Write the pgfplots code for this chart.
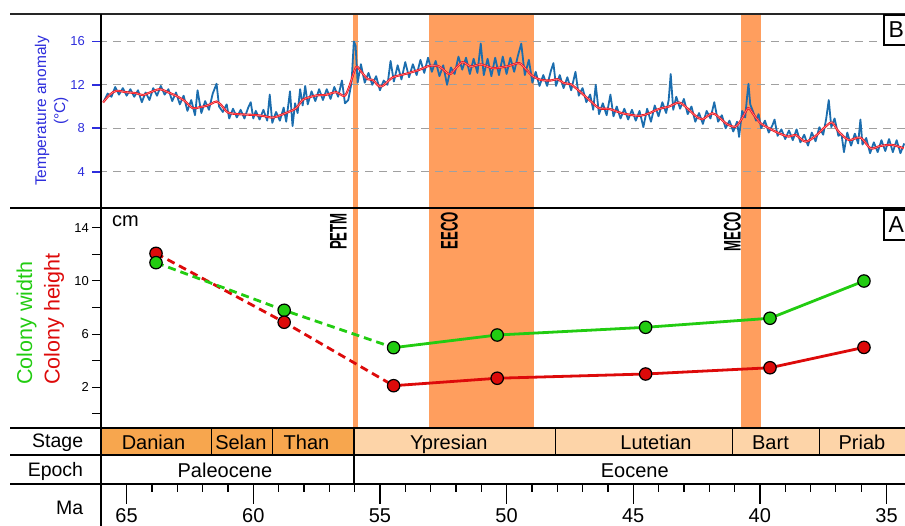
\documentclass[border=0pt]{standalone}
\usepackage{fontspec}
\setmainfont{Liberation Sans}
\usepackage{pgfplots}
\usepackage{pgfplotstable}
\usepackage{graphicx}
\pgfplotsset{compat=1.18}

\definecolor{tblue}{HTML}{2D2DDC}
\definecolor{dblue}{HTML}{1B6DAE}
\definecolor{redl}{HTML}{F0141E}
\definecolor{bandc}{HTML}{FF9E5E}
\definecolor{palc}{HTML}{F7A64E}
\definecolor{eocc}{HTML}{FDD4A8}
\definecolor{cgreen}{HTML}{22CC11}
\definecolor{cred}{HTML}{DD0A0A}
\definecolor{gridgray}{HTML}{A0A0A0}

\pgfplotstableread{
ma t
65.90 10.5
65.75 11.2
65.60 10.9
65.45 11.8
65.30 11.1
65.15 11.7
65.00 11.0
64.85 11.6
64.70 10.9
64.55 11.5
64.40 10.4
64.25 11.3
64.10 10.6
63.95 11.7
63.80 11.0
63.65 11.9
63.50 11.1
63.35 11.6
63.20 10.5
63.05 11.3
62.90 10.2
62.75 11.0
62.60 9.6
62.45 10.6
62.30 9.2
62.20 11.5
62.05 9.4
61.90 10.5
61.75 9.7
61.60 11.2
61.45 12.1
61.35 10.0
61.20 9.5
61.05 10.2
60.95 8.9
60.80 9.8
60.65 9.0
60.50 9.7
60.35 8.9
60.20 9.9
60.10 10.4
60.00 8.9
59.90 9.6
59.75 8.8
59.60 9.7
59.45 8.7
59.35 11.1
59.25 8.5
59.10 9.5
58.95 8.7
58.80 9.9
58.70 8.6
58.55 11.4
58.45 8.2
58.35 10.3
58.25 9.4
58.15 11.6
58.05 10.1
57.95 11.9
57.85 10.2
57.70 11.4
57.55 10.5
57.40 11.6
57.25 10.6
57.10 11.6
56.95 10.7
56.80 11.8
56.65 10.9
56.50 12.4
56.38 10.3
56.25 10.6
56.12 12.2
56.03 16.0
55.96 15.6
55.88 12.2
55.75 13.9
55.60 12.2
55.45 13.1
55.30 12.0
55.15 12.8
55.00 11.5
54.85 12.4
54.70 12.0
54.58 14.2
54.45 12.3
54.30 13.8
54.15 12.5
54.00 14.1
53.85 12.7
53.70 13.9
53.55 12.9
53.40 14.3
53.25 13.1
53.10 14.5
52.95 13.2
52.80 14.2
52.65 12.8
52.50 13.8
52.35 12.0
52.20 13.6
52.05 13.0
51.90 14.6
51.75 13.4
51.60 14.5
51.45 13.0
51.30 14.4
51.15 13.1
51.02 15.8
50.90 12.9
50.75 14.4
50.60 12.8
50.45 14.5
50.30 12.9
50.15 14.6
50.00 13.0
49.85 14.5
49.70 13.2
49.55 14.7
49.42 15.8
49.28 12.9
49.12 14.3
48.98 12.2
48.85 13.2
48.70 11.9
48.55 12.9
48.40 11.9
48.25 13.3
48.15 14.0
48.05 11.9
47.90 12.9
47.75 11.7
47.60 12.7
47.45 11.5
47.28 13.2
47.15 11.0
47.00 11.7
46.85 10.4
46.70 11.1
46.58 9.7
46.48 12.0
46.35 9.3
46.20 10.3
46.05 9.2
45.90 11.1
45.78 9.1
45.65 10.0
45.50 8.9
45.35 9.8
45.20 8.8
45.05 9.7
44.90 8.7
44.75 9.6
44.60 8.1
44.45 9.8
44.30 8.6
44.15 10.1
44.00 9.1
43.85 10.4
43.70 9.4
43.60 10.6
43.52 13.0
43.42 9.7
43.30 10.9
43.15 9.8
43.00 10.7
42.85 9.3
42.70 10.0
42.55 8.6
42.40 9.4
42.25 8.4
42.10 9.6
41.95 8.9
41.80 10.4
41.65 8.6
41.50 9.2
41.35 8.0
41.20 8.7
41.05 7.7
40.90 8.6
40.82 7.2
40.70 9.6
40.58 9.0
40.50 11.0
40.45 12.1
40.38 10.2
40.28 9.6
40.15 8.7
40.05 9.3
39.95 8.0
39.80 8.7
39.65 7.6
39.50 8.3
39.42 8.8
39.30 7.3
39.15 7.9
39.00 7.0
38.85 7.8
38.70 6.9
38.55 7.9
38.40 6.7
38.25 7.4
38.10 6.4
37.95 7.6
37.80 6.8
37.65 8.1
37.50 7.4
37.38 8.9
37.28 10.6
37.18 8.1
37.05 8.9
36.90 7.3
36.78 7.5
36.68 5.8
36.55 7.6
36.40 6.4
36.25 7.5
36.12 6.6
36.03 8.8
35.95 6.5
35.80 7.1
35.65 5.7
35.50 6.7
35.35 5.8
35.20 6.9
35.05 5.9
34.90 7.0
34.75 5.8
34.60 6.9
34.45 5.7
34.30 6.6
}\bluedata

\pgfplotstableread{
ma t
65.93 10.37
65.67 11.08
65.41 11.45
65.01 11.32
64.62 11.23
64.36 11.05
64.09 11.29
63.70 11.60
63.43 11.38
63.04 10.98
62.71 10.52
62.39 9.85
62.12 9.94
61.86 10.06
61.66 10.25
61.46 10.46
61.27 10.15
61.00 9.45
60.54 9.29
60.02 9.23
59.63 9.14
59.23 8.98
58.90 9.23
58.57 9.54
58.31 9.85
58.05 10.62
57.91 10.77
57.52 11.02
57.13 11.08
56.73 11.32
56.40 10.98
56.21 11.85
55.94 13.63
55.75 13.23
55.48 12.52
55.29 12.46
55.02 11.85
54.83 12.00
54.50 12.68
53.97 13.02
53.45 13.38
53.05 13.75
52.66 13.69
52.26 12.98
52.00 13.54
51.74 14.09
51.41 13.69
51.01 13.88
50.56 13.54
50.16 13.63
49.90 13.75
49.50 14.00
49.24 13.45
48.98 12.83
48.65 12.46
48.25 12.40
47.99 12.52
47.73 12.15
47.47 12.06
47.14 11.45
46.74 10.62
46.35 9.85
45.95 9.78
45.43 9.38
44.77 9.14
44.38 9.38
43.98 9.78
43.59 10.00
43.19 10.37
42.87 9.85
42.54 9.14
42.27 8.83
41.88 9.38
41.62 9.02
41.29 8.37
40.96 8.15
40.70 8.92
40.46 9.85
40.24 9.23
39.97 8.46
39.64 8.00
39.25 7.54
38.86 7.23
38.59 7.38
38.20 6.77
37.80 7.29
37.41 8.15
37.15 8.52
36.89 7.69
36.49 6.92
36.03 7.14
35.63 6.15
35.24 6.37
34.78 6.46
34.32 6.15
}\reddata

\pgfplotsset{
  common/.style={
    anchor=south west, scale only axis, width=803.7pt,
    x dir=reverse, xmin=34.27, xmax=66,
    /pgf/number format/assume math mode=true,
  },
  band/.style={on layer=axis background, fill=bandc, draw=none, forget plot},
}

\begin{document}
\begin{tikzpicture}

% ---------- Temperature panel (B)
\begin{axis}[common, at={(101.3pt,318pt)}, height=194pt,
  ymin=0.65, ymax=18.53, set layers,
  axis x line*=bottom, axis y line*=left, axis line style={draw=none},
  xtick=\empty, ytick={4,8,12,16},
  ymajorgrids, grid style={draw=gridgray, line width=1.1pt, dash pattern=on 8pt off 6pt},
  tick align=outside, major tick length=9pt,
  ytick style={draw=tblue, line width=1.8pt},
  yticklabel style={text=tblue, font=\fontsize{13}{13}\selectfont, xshift=-4pt},
]
\addplot[band] coordinates {(56.07,0.65) (55.85,0.65) (55.85,18.53) (56.07,18.53)};
\addplot[band] coordinates {(53.06,0.65) (48.92,0.65) (48.92,18.53) (53.06,18.53)};
\addplot[band] coordinates {(40.75,0.65) (39.97,0.65) (39.97,18.53) (40.75,18.53)};
\addplot[draw=dblue, line width=1.8pt, line join=round] table[x=ma,y=t] {\bluedata};
\addplot[draw=redl, line width=2.1pt, smooth] table[x=ma,y=t] {\reddata};
\addplot[draw=red!35!white, line width=0.4pt, smooth] table[x=ma,y=t] {\reddata};
\end{axis}

% ---------- Colony panel (A)
\begin{axis}[common, at={(101.3pt,98pt)}, height=220pt,
  ymin=-1.06, ymax=15.48, set layers,
  axis x line*=bottom, axis y line*=left, axis line style={draw=none},
  xtick=\empty, ytick={2,6,10,14}, minor ytick={0,4,8,12},
  tick align=outside, major tick length=9pt, minor tick length=9pt,
  ytick style={draw=black, line width=0.9pt},
  minor tick style={draw=black, line width=0.9pt},
  yticklabel style={font=\fontsize{13}{13}\selectfont},
]
\addplot[band] coordinates {(56.07,-1.06) (55.85,-1.06) (55.85,15.48) (56.07,15.48)};
\addplot[band] coordinates {(53.06,-1.06) (48.92,-1.06) (48.92,15.48) (53.06,15.48)};
\addplot[band] coordinates {(40.75,-1.06) (39.97,-1.06) (39.97,15.48) (40.75,15.48)};
\addplot[draw=cred, line width=2.8pt, dash pattern=on 8pt off 5pt] coordinates {(63.84,12.07) (58.78,6.89) (54.46,2.12)};
\addplot[draw=cgreen, line width=2.8pt, dash pattern=on 8pt off 5pt] coordinates {(63.84,11.37) (58.78,7.79) (54.46,4.98)};
\addplot[draw=cred, line width=2.8pt] coordinates {(54.46,2.12) (50.37,2.68) (44.51,3.00) (39.60,3.47) (35.89,5.00)};
\addplot[draw=cgreen, line width=2.8pt] coordinates {(54.46,4.98) (50.37,5.93) (44.51,6.51) (39.60,7.19) (35.89,9.99)};
\addplot[only marks, mark=*, mark size=6.2pt, mark options={fill=cred, draw=black, line width=1.2pt}] coordinates {(63.84,12.07)};
\addplot[only marks, mark=*, mark size=6.2pt, mark options={fill=cgreen, draw=black, line width=1.2pt}] coordinates {(63.84,11.37) (58.78,7.79) (54.46,4.98) (50.37,5.93) (44.51,6.51) (39.60,7.19) (35.89,9.99)};
\addplot[only marks, mark=*, mark size=6.2pt, mark options={fill=cred, draw=black, line width=1.2pt}] coordinates {(58.78,6.89) (54.46,2.12) (50.37,2.68) (44.51,3.00) (39.60,3.47) (35.89,5.00)};
\end{axis}

% ---------- Stage / Epoch rows
\begin{axis}[common, at={(101.3pt,42pt)}, height=56pt, ymin=0, ymax=56, hide axis, clip=true]
\addplot[fill=palc, draw=black, line width=1.2pt] coordinates {(66.5,29) (61.64,29) (61.64,56) (66.5,56) (66.5,29)};
\addplot[fill=palc, draw=black, line width=1.2pt] coordinates {(61.64,29) (59.23,29) (59.23,56) (61.64,56) (61.64,29)};
\addplot[fill=palc, draw=black, line width=1.2pt] coordinates {(59.23,29) (56.02,29) (56.02,56) (59.23,56) (59.23,29)};
\addplot[fill=eocc, draw=black, line width=1.2pt] coordinates {(56.02,29) (48.06,29) (48.06,56) (56.02,56) (56.02,29)};
\addplot[fill=eocc, draw=black, line width=1.2pt] coordinates {(48.06,29) (41.07,29) (41.07,56) (48.06,56) (48.06,29)};
\addplot[fill=eocc, draw=black, line width=1.2pt] coordinates {(41.07,29) (37.65,29) (37.65,56) (41.07,56) (41.07,29)};
\addplot[fill=eocc, draw=black, line width=1.2pt] coordinates {(37.65,29) (33.5,29) (33.5,56) (37.65,56) (37.65,29)};
\addplot[draw=black, line width=1.3pt] coordinates {(56.02,0) (56.02,29)};
\begin{scope}[every node/.style={anchor=base, inner sep=0, font=\fontsize{20}{20}\selectfont}]
\node at (axis cs:63.94,34.5) {Danian};
\node at (axis cs:60.49,34.5) {Selan};
\node at (axis cs:57.90,34.5) {Than};
\node at (axis cs:52.28,34.5) {Ypresian};
\node at (axis cs:44.10,34.5) {Lutetian};
\node at (axis cs:39.58,34.5) {Bart};
\node at (axis cs:35.97,34.5) {Priab};
\node at (axis cs:61.12,6) {Paleocene};
\node at (axis cs:44.94,6) {Eocene};
\end{scope}
\end{axis}

% ---------- Ma axis
\begin{axis}[common, at={(101.3pt,22pt)}, height=20pt, ymin=0, ymax=1,
  axis line style={draw=none}, ytick=\empty,
  xtick={35,40,...,65}, minor xtick={34,...,66},
  xtick pos=right, xticklabel pos=left,
  tick align=inside, major tick length=20pt, minor tick length=8pt,
  xtick style={draw=black, line width=1.3pt},
  minor x tick style={draw=black, line width=1.3pt},
  xticklabel style={font=\fontsize{20}{20}\selectfont, yshift=-1.5pt},
]
\addplot[draw=none, forget plot] coordinates {(50,0.5) (45,0.5)};
\end{axis}

% ---------- frame lines
\draw[line width=1.8pt, black!85] (10pt,512pt) -- (905pt,512pt);
\draw[line width=1.6pt] (10pt,318pt) -- (905pt,318pt);
\draw[line width=1.6pt] (10pt,98pt) -- (905pt,98pt);
\draw[line width=1.6pt] (10pt,71pt) -- (905pt,71pt);
\draw[line width=1.6pt] (10pt,42pt) -- (905pt,42pt);
\draw[line width=2pt] (101pt,0pt) -- (101pt,512pt);

% ---------- texts
\node[rotate=90, align=center, text=tblue, font=\fontsize{15.5}{19}\selectfont] at (51.5pt,415pt) {Temperature anomaly\\(°C)};
\node[rotate=90, anchor=base west, inner sep=0, text=cgreen, font=\fontsize{21.5}{21.5}\selectfont] at (32pt,141pt) {Colony width};
\node[rotate=90, anchor=base west, inner sep=0, text=cred, font=\fontsize{21.5}{21.5}\selectfont] at (59.5pt,141pt) {Colony height};
\node[anchor=base west, inner sep=0, font=\fontsize{20}{20}\selectfont] at (112pt,299pt) {cm};
\node[anchor=base east, inner sep=0, font=\fontsize{19.5}{19.5}\selectfont] at (83.3pt,78.7pt) {Stage};
\node[anchor=base east, inner sep=0, font=\fontsize{19.5}{19.5}\selectfont] at (83.3pt,49.3pt) {Epoch};
\node[anchor=base east, inner sep=0, font=\fontsize{19.5}{19.5}\selectfont] at (83.3pt,11pt) {Ma};
\node[rotate=90, anchor=base east, inner sep=0, font=\bfseries\fontsize{24}{24}\selectfont] at (346.5pt,313pt) {\scalebox{0.55}[1]{PETM}};
\node[rotate=90, anchor=base east, inner sep=0, font=\bfseries\fontsize{24}{24}\selectfont] at (457.5pt,314pt) {\scalebox{0.55}[1]{EECO}};
\node[rotate=90, anchor=base east, inner sep=0, font=\bfseries\fontsize{24}{24}\selectfont] at (740.5pt,314pt) {\scalebox{0.55}[1]{MECO}};
\draw[fill=white, line width=1.3pt] (884pt,481pt) rectangle (930pt,511pt);
\node[anchor=base west, inner sep=0, font=\fontsize{23}{23}\selectfont] at (888.5pt,488pt) {B};
\draw[fill=white, line width=1.3pt] (884pt,286pt) rectangle (930pt,316pt);
\node[anchor=base west, inner sep=0, font=\fontsize{23}{23}\selectfont] at (888.5pt,293pt) {A};

\pgfresetboundingbox
\path[use as bounding box] (0,0) rectangle (905pt,526pt);
\end{tikzpicture}
\end{document}
